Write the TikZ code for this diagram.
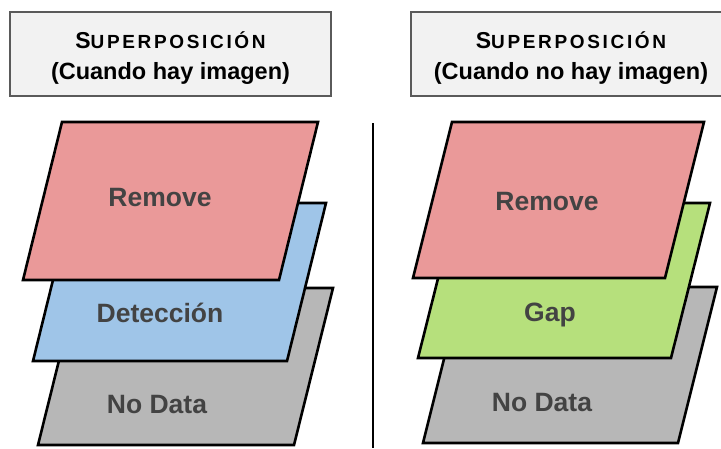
\documentclass[tikz,border=0pt]{standalone}
\usepackage{fontspec}
\setmainfont{Liberation Sans}
\usetikzlibrary{positioning}

\definecolor{rojo}{HTML}{EA9999}
\definecolor{azul}{HTML}{9FC5E8}
\definecolor{verde}{HTML}{B6E07C}
\definecolor{gris}{HTML}{B7B7B7}
\definecolor{fondo}{HTML}{F2F2F2}
\definecolor{borde}{HTML}{5A5A5A}
\definecolor{texto}{HTML}{434343}

\begin{document}
\begin{tikzpicture}[x=1pt,y=-1pt,thick]

\useasboundingbox (0,0) rectangle (721,448);

\tikzset{
	titulo/.style={draw=borde, line width=2pt, fill=fondo,
		minimum width=321pt, minimum height=84pt, inner sep=0pt},
	encabezado/.style={align=center, inner sep=0pt,
		font=\bfseries\fontsize{23.5}{31}\selectfont},
	capa/.style={draw=black, line width=2.6pt, line join=miter},
	etiqueta/.style={text=texto, font=\bfseries\fontsize{26.5}{30}\selectfont}
}

\def\encabezado#1{
	{\addfontfeature{LetterSpace=14}{\fontsize{23}{31}\selectfont S}%
	{\fontsize{19}{31}\selectfont UPERPOSICIÓN}}\\
	#1
}

\def\capa#1#2#3#4{
	\draw[capa,fill=#1] #2 -- ++(39,-#4) -- ++(#3,0) -- ++(-39,#4) -- cycle;
}

% titulos
\node[titulo] (tituloA) at (170.5,54) {};
\node[titulo] (tituloB) at (571,54) {};
\node[encabezado] (textoA) at ([yshift=-4pt]tituloA.center) {\encabezado{(Cuando hay imagen)}};
\node[encabezado] (textoB) at ([yshift=-4pt]tituloB.center) {\encabezado{(Cuando no hay imagen)}};

% separador
\draw[line width=2pt] (373,123) -- (373,448);

% con imagen
\capa{gris}{(38,445)}{256}{157}
\capa{azul}{(33,361)}{254}{158}
\capa{rojo}{(23,280)}{256}{158}
\node[etiqueta] (quitarA) at (160,198) {Remove};
\node[etiqueta] (deteccion) at (160,313) {Detección};
\node[etiqueta] (nodataA) at (157,405) {No Data};

% sin imagen
\capa{gris}{(423,443)}{255}{156}
\capa{verde}{(418,358)}{253}{155}
\capa{rojo}{(413,278)}{252}{156}
\node[etiqueta] (quitarB) at (547,202) {Remove};
\node[etiqueta] (hueco) at (550,315) {Gap};
\node[etiqueta] (nodataB) at (542,403) {No Data};

\end{tikzpicture}
\end{document}
